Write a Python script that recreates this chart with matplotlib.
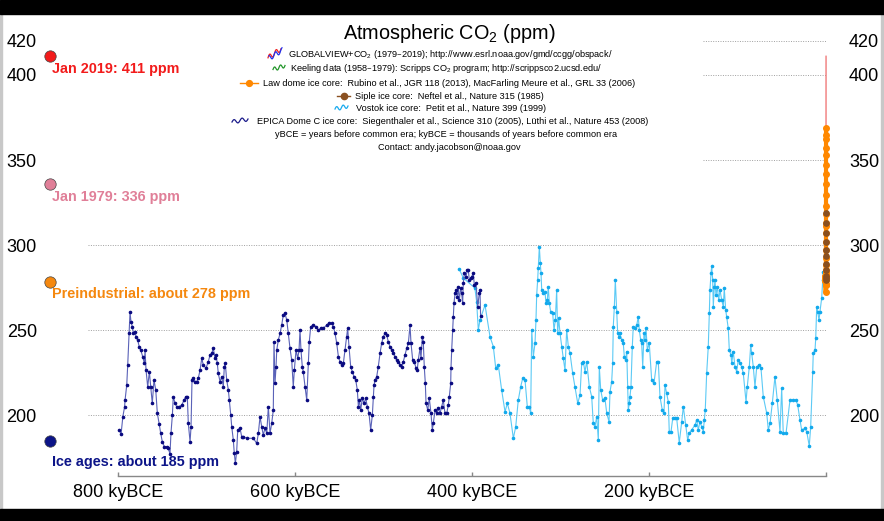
import numpy as np
import matplotlib.pyplot as plt
from matplotlib.lines import Line2D
from matplotlib.patches import Rectangle

plt.rcParams['font.family'] = ['Liberation Sans', 'DejaVu Sans']
plt.rcParams['mathtext.default'] = 'regular'

# EPICA Dome C (kyBCE, ppm)
epica_ky = [799, 797, 795, 793, 792.5, 790.6, 789.5, 788, 786.9, 785.8, 784.3, 783, 781.2, 780.1, 778.2, 776.4,
            774.8, 772.5, 770.7, 769.9, 768.8, 766.9, 765, 763.5, 761.7, 759.8, 757.8, 756, 754, 752.2, 750.4,
            748.1, 745.4, 743.6, 741.7, 740.6, 739, 738, 736, 734.1, 731.5, 728.4, 725.8, 723.9, 722.1, 721,
            719, 717.9, 716.8, 715.3, 713.4, 711.5, 709.7, 707.7, 705.8, 704, 701, 698.4, 696.4, 694.5, 692.7,
            690.8, 689.7, 688.2, 687.1, 685.1, 683.2, 681.4, 680.3, 679.2, 677.6, 675.7, 674.6, 673, 671.9,
            670.1, 669, 667.8, 666.3, 665.1, 662.5, 660.6, 658.8, 655, 647.5, 643.6, 641.8, 639.9, 638, 636.2,
            634.3, 632.3, 630.5, 628.6, 626.7, 624.9, 624.1, 623, 621.8, 621, 619.2, 617.3, 615.4, 613.6, 611.7,
            609.7, 607.9, 606, 604.1, 602.3, 601.1, 599.2, 597.3, 595.8, 594.7, 593.6, 592.1, 591, 589, 587.1,
            585.3, 584.2, 582.6, 579.6, 576.6, 574, 571.3, 568.3, 564.5, 561.5, 558.9, 557, 555.1, 553.2, 551.3,
            549.5, 547.5, 545.7, 543.8, 541.9, 540.8, 539.3, 537.4, 535.5, 533.6, 531.7, 529.9, 528.7, 527.6,
            526.1, 524.2, 522.3, 520.4, 518.6, 516.7, 514.8, 512.9, 511.8, 511, 509.9, 508, 506.2, 504.2, 502.4,
            500.5, 498.6, 496.7, 494.9, 492.9, 491, 489.2, 487.3, 485.4, 483.6, 481.6, 479.7, 477.9, 476, 474.1,
            472.2, 470.3, 469.2, 467.3, 465.5, 463.5, 462.1, 461, 459, 457.9, 456.4, 455.3, 454.2, 453, 452.2,
            450.3, 448.5, 446.6, 445.1, 444, 442, 440.1, 438.3, 436.4, 434.5, 432.7, 430.8, 428.8, 427, 425.9,
            424.3, 424, 423.2, 422.1, 421.4, 420.6, 419.4, 418.3, 416.8, 415.7, 414.6, 413, 411.9, 410.8, 410.1,
            408.9, 407, 405.5, 404.4, 403.3, 401.7, 400.6, 398.8, 397.6, 395.7, 393.8, 392, 391.2, 390.5]
epica_co2 = [191.2, 188.8, 199, 204.9, 208.8, 217.6, 229.4, 248, 260.4, 254.9, 252, 248, 249, 246, 244, 240,
             238.2, 234.3, 230.4, 238, 226.5, 216.6, 225.5, 216.6, 206.9, 220.6, 214.7, 201, 195, 189.2, 184.3,
             181.4, 181.4, 180.4, 177, 189.2, 200, 210.8, 206.9, 204.9, 204.9, 205.9, 208.8, 210.8, 210.8, 195.1,
             184.3, 193.1, 220.6, 221.6, 219.6, 219.6, 221.6, 226.5, 233.3, 229.4, 227.5, 231.4, 235.3, 236.3, 239.2,
             233.3, 235.3, 230.4, 224.5, 219.6, 222.5, 216.6, 228.4, 230.4, 220.6, 214.7, 208.8, 200, 193.1,
             185.3, 177.5, 171.6, 178.4, 191.2, 192.2, 187.2, 187.2, 186.3, 186.3, 183.3, 189.2, 199, 193.1, 188.2,
             192.2, 189.2, 204.9, 189.2, 195.1, 202.9, 243.1, 218.6, 228.4, 238.2, 244.1, 248, 252.9, 258.8, 259.8,
             255.9, 248, 239.2, 232.4, 216.6, 226.5, 238.2, 233.3, 238.2, 250, 238.2, 228.4, 225.5, 216.6, 208.8,
             230.4, 243.1, 252, 252.9, 252, 250, 251, 251, 252.9, 254.3, 254, 252, 248, 242.2, 234.3,
             231.4, 229.4, 230.4, 238.2, 246.1, 251, 240.2, 228.4, 225.5, 222.5, 220.6, 214.7, 204.9, 208.8,
             202.9, 209.8, 206.9, 209.8, 204.9, 201, 191.2, 200, 210.8, 217.6, 220.6, 222.5, 228.4, 236.3, 242.2,
             246.1, 248, 247.1, 243.1, 240.2, 238.2, 236.3, 234.3, 232.4, 231.4, 229.4, 228.4, 231.4, 235.3, 239.2,
             242.2, 252.9, 242.2, 232.4, 231.4, 227.5, 226.5, 232.4, 239.2, 233.3, 246.1, 243.1, 228.4, 218.6, 206.9,
             202.9, 209.8, 201, 191.2, 195.1, 202.9, 201, 203.9, 201, 204.9, 208.8, 201, 201, 205.9, 210.8,
             218.6, 227.5, 238.2, 250, 257.8, 265.7, 271.6, 273.5, 269.6, 275.5, 267.6, 274.5, 271.6, 265.7, 277.5,
             283.3, 281.4, 285.3, 285.3, 279.4, 280.4, 281.4, 283.3, 276.5, 277.5, 263.7, 271.6, 273.5, 258]

# Vostok (kyBCE, ppm)
vostok_ky = [414.6, 410.1, 397, 395, 393.1, 391.2, 385.5, 379.9, 376.1, 373.4, 370.5, 366.7, 362.9, 360.3, 357.3,
             353.5, 350.8, 347.9, 345.2, 342.9, 340.3, 337.7, 335.4, 333.9, 332.7, 330.9, 329, 327.9, 327.1, 326,
             325.3, 324.1, 323, 322.2, 321.4, 319.6, 317.7, 316.6, 315.1, 314, 312.8, 311.3, 309, 307.5, 306,
             304.5, 303.4, 302.2, 300.7, 298.8, 297, 295.1, 293.2, 291.3, 289.4, 286.4, 283.8, 280.7, 278.1, 276.2,
             274.4, 272.5, 270.5, 267.6, 264.9, 263.1, 261.2, 259.2, 257.4, 256.3, 254.7, 252.5, 249.9, 247.9, 245.3,
             244.2, 242.3, 241.2, 240.5, 239.3, 238.2, 236.6, 235.5, 234, 232.9, 231, 229.2, 228, 226.5, 225.3,
             224.2, 223.5, 222.4, 221.6, 220.5, 219, 217.9, 215.9, 214, 212.2, 211.1, 209.5, 208.4, 207.2, 205.8,
             204.6, 203.5, 202, 199.8, 197.1, 194.5, 191.4, 189.6, 187.7, 185.1, 183.2, 182, 180.1, 178.3, 177.2,
             175.2, 173.3, 170.7, 168.8, 165.9, 163.1, 161.3, 158.6, 156.4, 154.6, 151.9, 148.1, 146.2, 144.4, 142.5,
             140.5, 138.7, 137.6, 136.5, 134.9, 133.1, 131.9, 131.2, 130, 129.2, 128.1, 127.4, 126.3, 125.5, 124.4,
             122.9, 121.3, 119.8, 117.9, 116.1, 115, 113.4, 112.3, 110.5, 109.3, 107.4, 106.6, 104.8, 102.9, 101,
             99.2, 97.2, 95.3, 93.5, 90.4, 89, 86.7, 85.1, 84, 82.2, 80.3, 78.3, 75.4, 73.5, 70.9,
             67, 65.2, 63.3, 60.7, 57.7, 55.1, 52, 50.1, 48.3, 45.2, 40.7, 37, 33.9, 32, 29.4,
             27.5, 23.7, 21.8, 18.9, 17.3, 15, 14.4, 12.4, 11.6, 10.5, 9.4, 7.9, 6.8, 4.9, 3.7, 3.1]
vostok_co2 = [285.7, 280.6, 274.7, 266.7, 250, 255.9, 264.7, 246.1, 240.2, 227.5, 229.4, 214.7, 201.9, 206.9, 201,
              186.3, 193.1, 208.8, 216.6, 221.6, 220.6, 204.9, 204.9, 201, 250, 234.3, 242.2, 255.9, 270.6, 279.4,
              286.3, 299, 289.2, 283.3, 273.5, 271.6, 272.5, 265.7, 267.6, 275.5, 265.7, 260.8, 259.8, 250, 255.9,
              273.5, 248, 256.9, 248, 240.2, 233.3, 226.5, 250, 240.2, 236.3, 224.5, 216.6, 206.9, 211.8, 230.4,
              231.4, 225.5, 231.4, 216.6, 210.8, 195.1, 193.1, 199, 185.3, 228.4, 214.7, 208.8, 209.8, 201, 196.1,
              213.7, 219.6, 230.4, 252, 263.7, 279.4, 260.8, 248, 246.1, 248, 244.1, 242.2, 234.3, 232.4, 237.3,
              216.6, 202.9, 206.9, 210.8, 216.6, 240.2, 252, 251, 252.9, 257.8, 250, 244.1, 242.2, 228.4, 248,
              244.1, 251, 238.2, 242.2, 220.6, 218.6, 231.4, 231.4, 210.8, 202.9, 201, 217.6, 212.7, 207.8, 190.2,
              190.2, 198, 198, 198, 183.7, 196.1, 204.9, 194.1, 185.3, 189.2, 191.2, 194.1, 197.1, 191.2, 196.1,
              193.1, 190.2, 197.1, 202.9, 224.5, 240.2, 259.8, 273.5, 283.3, 287.6, 279.4, 263.7, 275.5, 279.4, 270.6,
              275.5, 267.6, 273.5, 267.6, 263.7, 274.5, 261.8, 257.8, 251, 238.2, 235.3, 230.4, 237.3, 228.4, 225.5,
              232.4, 230.4, 228.4, 224.5, 207.8, 216.6, 228.4, 241.2, 236.3, 228.4, 216.6, 228.4, 229.4, 227.5, 210.8,
              201, 191.2, 195.1, 206.9, 222.5, 208.8, 190.2, 215.7, 189.2, 189.2, 208.8, 208.8, 208.8, 205.9, 197.1,
              191.2, 192.2, 190.2, 181.8, 193.1, 225.5, 236.3, 238.2, 245.1, 263.7, 260.8, 255.9, 260.8, 268.6, 279.4, 284.3]

# modern records (year CE, ppm)
law_year = [1010, 1089, 1197, 1290, 1400, 1480, 1550, 1600, 1650, 1700, 1750, 1780, 1800, 1830, 1850, 1870, 1890,
            1905, 1920, 1935, 1945, 1955, 1962, 1968, 1973, 1978, 1983, 1987, 1991, 1994, 1997, 2001, 2004]
law_co2 = [279.4, 279.0, 281.7, 281.3, 280.0, 281.1, 282.0, 276.2, 272.4, 276.6, 277.2, 279.6, 283.0, 284.2, 285.3,
           288.0, 292.5, 297.0, 301.8, 307.0, 311.0, 313.0, 318.0, 323.0, 329.5, 336.0, 341.5, 347.0, 353.0,
           357.0, 362.5, 365.0, 368.6]
siple_year = [1744, 1764, 1788, 1820, 1850, 1875, 1895, 1912, 1928, 1942, 1953]
siple_co2 = [279.4, 280.6, 281.5, 285.3, 289.0, 293.5, 297.0, 301.8, 307.0, 312.9, 318.8]
keeling_year = [1958, 1962, 1966, 1970, 1974, 1979]
keeling_co2 = [315.3, 318.4, 321.1, 325.7, 330.2, 336.8]
gv_year = [1979, 1984, 1989, 1994, 1999, 2004, 2009, 2014, 2019]
gv_co2 = [336.4, 344.0, 352.9, 358.8, 368.4, 377.5, 387.4, 398.6, 411.0]

# reference levels on the left
ref_values = [411, 336, 278, 185]
ref_labels = ['Jan 2019: 411 ppm', 'Jan 1979: 336 ppm', 'Preindustrial: about 278 ppm', 'Ice ages: about 185 ppm']
ref_colors = ['#f21b1b', '#e07f98', '#f5880f', '#0c1488']
ref_dy = [13, 13, 12, 21]

yticks = [200, 250, 300, 350, 400, 420]
xticks = [800, 600, 400, 200, 0]
xticklabels = ['800 kyBCE', '600 kyBCE', '400 kyBCE', '200 kyBCE', '']

W, H = 884, 521


def fx(px):
    return px / W


def fy(py):
    return 1 - py / H


def to_ky(years):
    return [(1950 - y) / 1000.0 for y in years]


fig = plt.figure(figsize=(8.84, 5.21), dpi=100)
fig.patch.set_facecolor('white')
ax = fig.add_axes([fx(88), 45 / H, 744 / W, 446 / H])
ax.set_xlim(834.4, -6.8)
ax.set_ylim(164.12, 426.47)
ax.patch.set_alpha(0)

# grid (upper lines are hidden behind the legend block)
ax.hlines([200, 250, 300], 834, 0, colors='#a0a0a0', lw=0.7, linestyles=(0, (1, 1.5)), zorder=0)
ax.hlines([350, 400, 420], 139, 0, colors='#a0a0a0', lw=0.7, linestyles=(0, (1, 1.5)), zorder=0)

ax.plot(vostok_ky, vostok_co2, color='#5ccaf5', lw=0.8, marker='.', ms=3.2,
        mfc='#12a9ec', mec='#12a9ec', zorder=2)
ax.plot(epica_ky, epica_co2, color='#5a62b8', lw=0.8, marker='.', ms=3.2,
        mfc='#0a0a80', mec='#0a0a80', zorder=3)
ax.plot(to_ky(gv_year), gv_co2, color='#f07a7a', lw=1.0, zorder=4)
ax.plot(to_ky(keeling_year), keeling_co2, color='#2e9a2e', lw=1.0, zorder=4)
ax.plot(to_ky(law_year), law_co2, color='#ff8800', lw=3.0, marker='o', ms=4,
        mfc='#ff8800', mec='#ff8800', zorder=5)
ax.plot(to_ky(siple_year), siple_co2, color='#8a5020', lw=0, marker='o', ms=3.8,
        mfc='#8a5020', mec='#8a5020', zorder=6)

for val, lab, col, dy in zip(ref_values, ref_labels, ref_colors, ref_dy):
    ax.plot([877.3], [val], 'o', ms=8.2, mfc=col, mec='#444444', mew=0.5, clip_on=False, zorder=7)
    ax.annotate(lab, (877.3, val), xytext=(2, -dy), textcoords='offset pixels',
                ha='left', va='center', color=col, fontsize=10.4, fontweight='bold',
                annotation_clip=False)

for s in ['top', 'left', 'right']:
    ax.spines[s].set_visible(False)
ax.spines['bottom'].set_color('#888888')
ax.spines['bottom'].set_linewidth(1.0)
ax.spines['bottom'].set_bounds(800, 0)

ax.set_xticks(xticks)
ax.set_xticklabels(xticklabels)
ax.tick_params(axis='x', direction='in', length=3, width=1, color='#888888', labelsize=13, pad=6)
ax.set_yticks(yticks)
ax.tick_params(axis='y', length=0, labelsize=13, pad=36.9)

ax2 = ax.twinx()
ax2.set_ylim(ax.get_ylim())
ax2.set_yticks(yticks)
ax2.tick_params(axis='y', length=0, labelsize=13, pad=12.2)
for s in ['top', 'left', 'right', 'bottom']:
    ax2.spines[s].set_visible(False)

# title and legend block
fig.text(fx(449.5), fy(39), 'Atmospheric CO$_2$ (ppm)', ha='center', va='baseline', fontsize=14.3)

legend_rows = [
    (288, 53.3, 'GLOBALVIEW+CO$_2$ (1979\u20132019); http://www.esrl.noaa.gov/gmd/ccgg/obspack/'),
    (290, 67.5, 'Keeling data (1958\u20131979): Scripps CO$_2$ program; http://scrippsco2.ucsd.edu/'),
    (263, 83, 'Law dome ice core:  Rubino et al., JGR 118 (2013), MacFarling Meure et al., GRL 33 (2006)'),
    (355, 96, 'Siple ice core:  Neftel et al., Nature 315 (1985)'),
    (356, 107.5, 'Vostok ice core:  Petit et al., Nature 399 (1999)'),
    (257, 120.5, 'EPICA Dome C ice core:  Siegenthaler et al., Science 310 (2005), L\u00fcthi et al., Nature 453 (2008)'),
    (275, 134, 'yBCE = years before common era; kyBCE = thousands of years before common era'),
    (378, 147, 'Contact: andy.jacobson@noaa.gov'),
]
for x, y, t in legend_rows:
    fig.text(fx(x), fy(y + 3.3), t, ha='left', va='baseline', fontsize=6.6)


def squiggle(x0, x1, yc, color, h=3.5, rise=3.0, phase=0.0):
    t = np.linspace(0, 1, 40)
    xs = x0 + (x1 - x0) * t
    ys = yc + rise * (0.5 - t) - h * np.sin(2 * np.pi * 2 * t + phase) / 2
    fig.add_artist(Line2D([fx(v) for v in xs], [fy(v) for v in ys], color=color, lw=0.9,
                          transform=fig.transFigure))


squiggle(268, 281, 53.3, '#ee2222', h=5, rise=9)
squiggle(269, 282, 54.3, '#2233ee', h=5, rise=8, phase=1.5)
squiggle(273, 285, 67.5, '#22962a', h=4, rise=4)
fig.add_artist(Line2D([fx(240), fx(258)], [fy(83), fy(83)], color='#ff8800', lw=1.0,
                      transform=fig.transFigure))
fig.add_artist(Line2D([fx(249)], [fy(83)], color='#ff8800', marker='o', ms=4.2, lw=0,
                      transform=fig.transFigure))
fig.add_artist(Line2D([fx(337), fx(350)], [fy(96), fy(96)], color='#8a5020', lw=1.0,
                      transform=fig.transFigure))
fig.add_artist(Line2D([fx(343.5)], [fy(96)], color='#8a5020', marker='o', ms=4.5, lw=0,
                      transform=fig.transFigure))
squiggle(335, 348, 107.5, '#18aaee', h=4, rise=3)
squiggle(232, 248, 120.5, '#1a1a8a', h=4, rise=3)

# letterbox bars and side borders
fig.add_artist(Rectangle((0, fy(13.5)), 1, 13.5 / H, transform=fig.transFigure, color='black', zorder=10))
fig.add_artist(Rectangle((0, 0), 1, 12 / H, transform=fig.transFigure, color='black', zorder=10))
fig.add_artist(Rectangle((0, 0), 2 / W, 1, transform=fig.transFigure, color='#c8c8c8', zorder=9))
fig.add_artist(Rectangle((fx(881), 0), 3 / W, 1, transform=fig.transFigure, color='#c8c8c8', zorder=9))

fig.savefig('out.png', dpi=100)
